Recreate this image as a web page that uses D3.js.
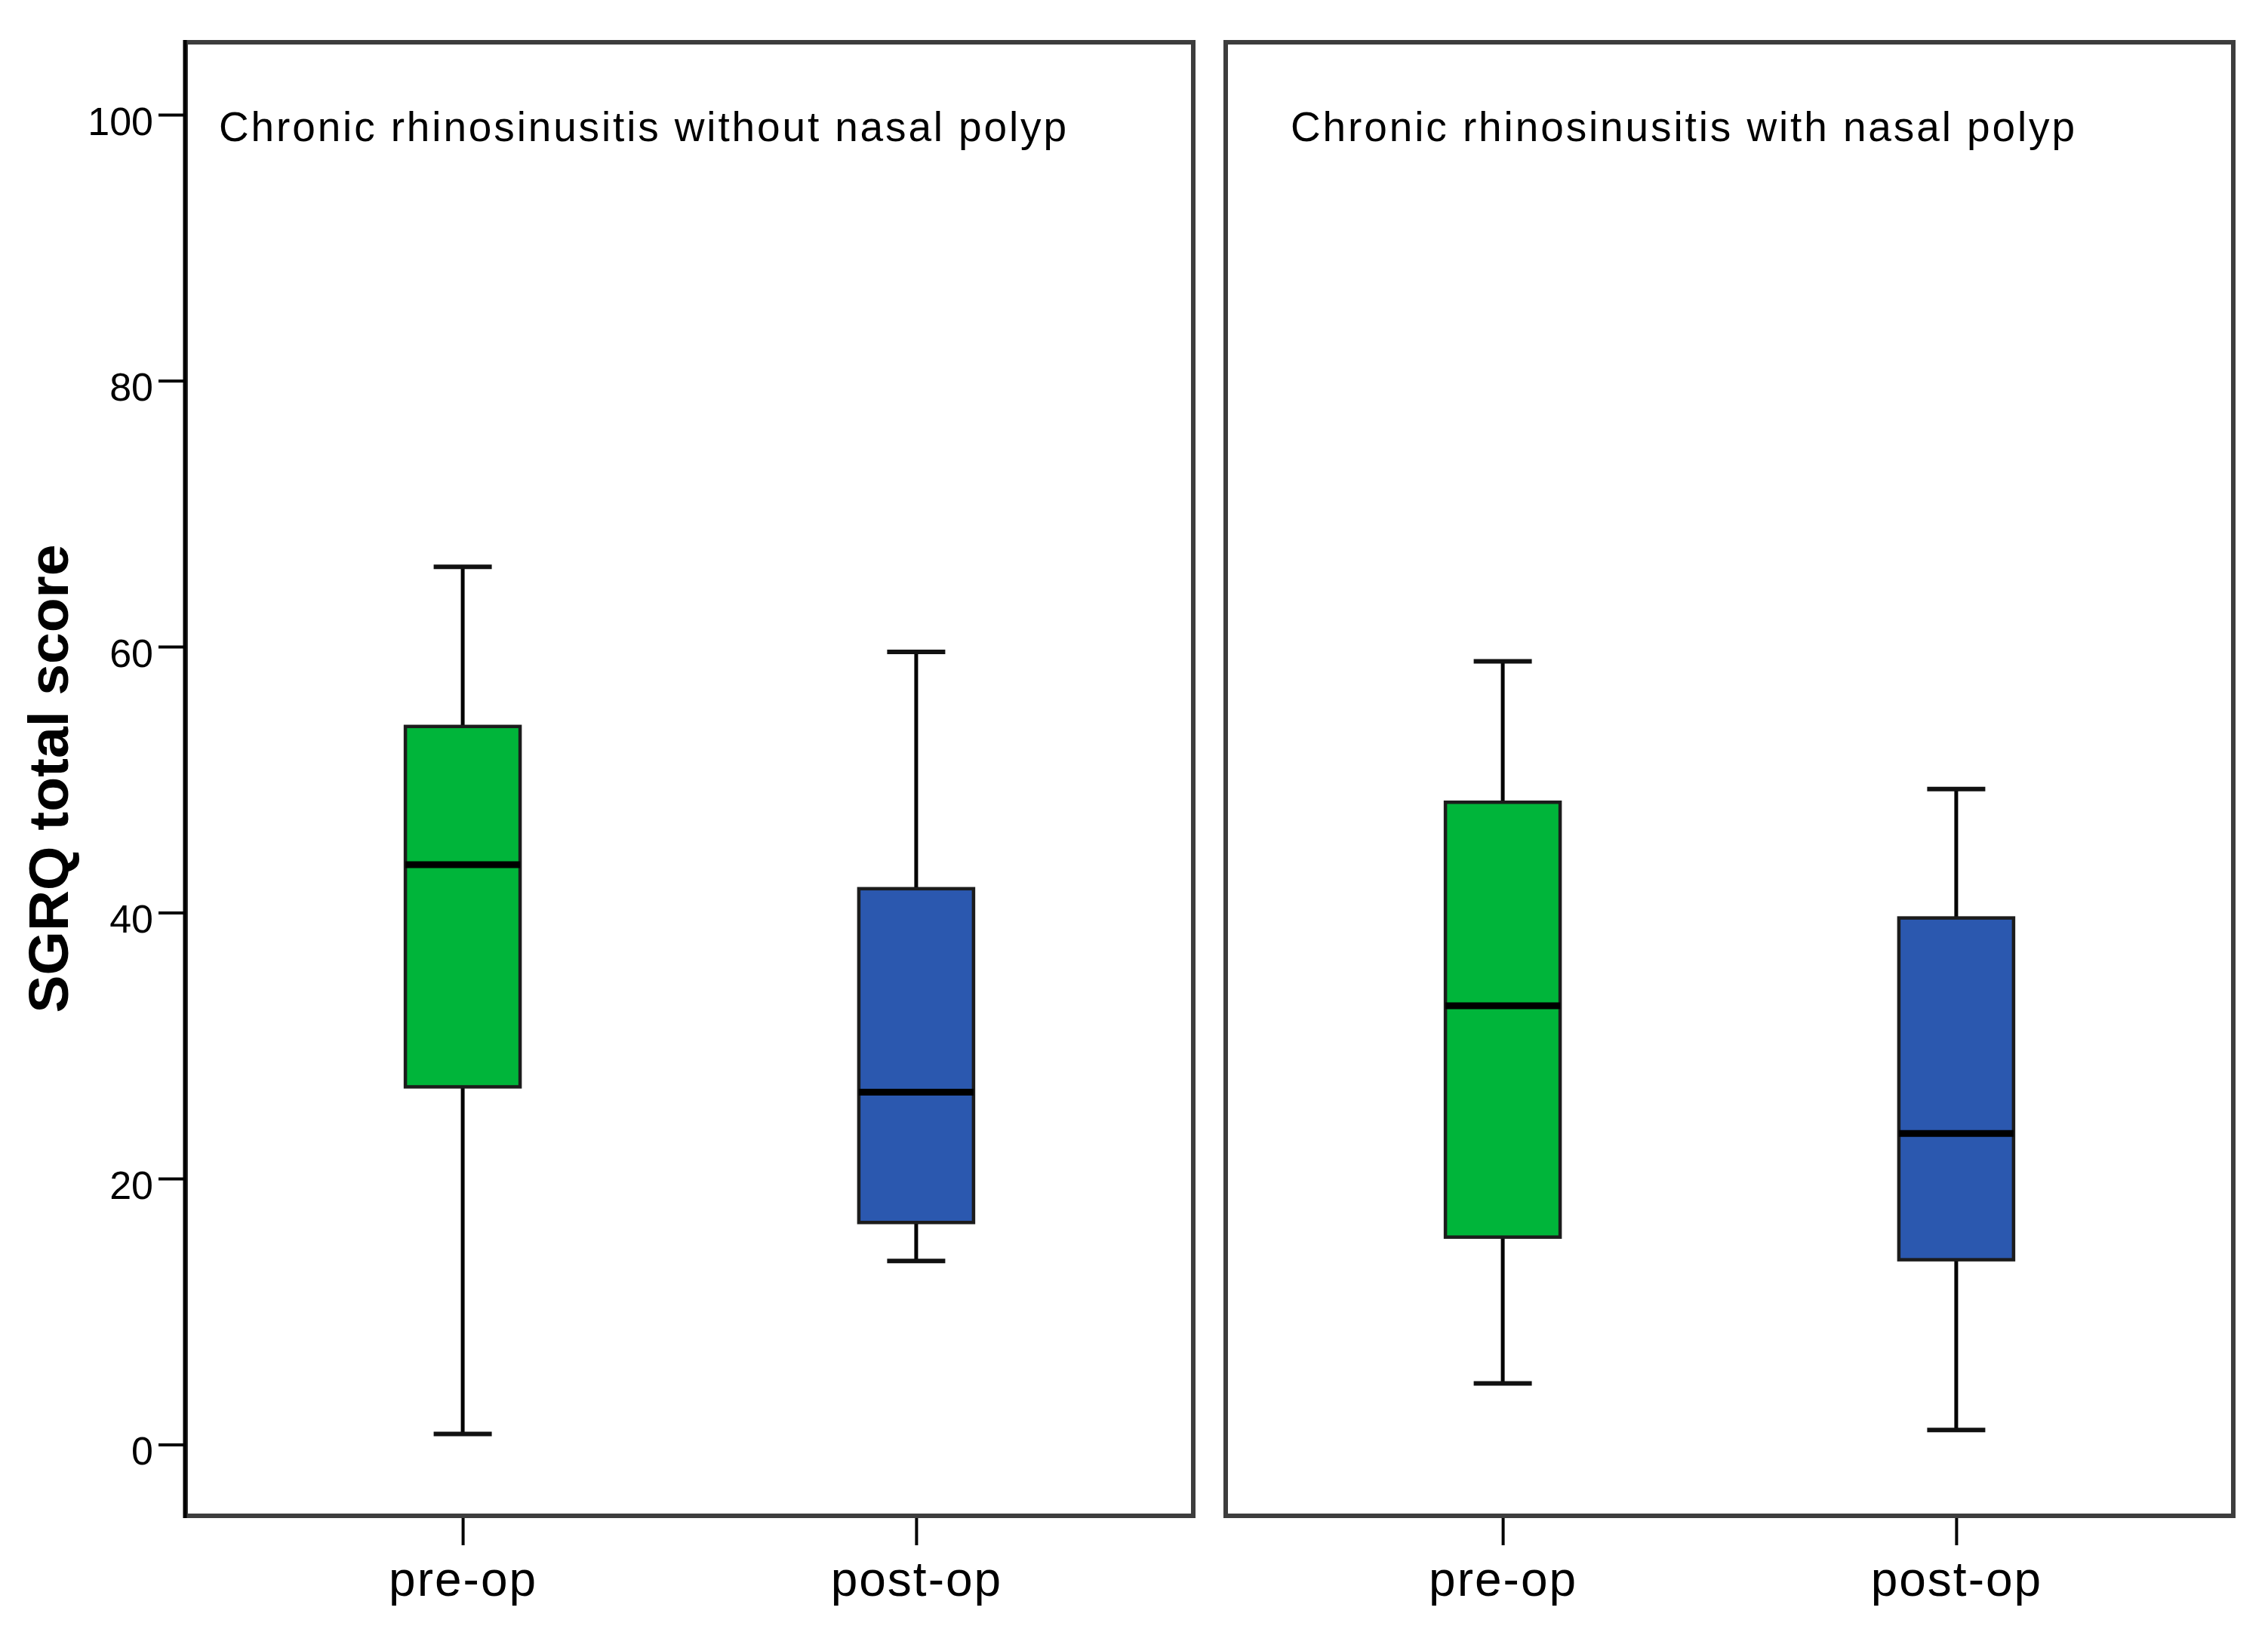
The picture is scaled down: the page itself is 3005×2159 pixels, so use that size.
<!DOCTYPE html>
<html>
<head>
<meta charset="utf-8">
<script src="https://cdn.jsdelivr.net/npm/d3@7"></script>
<style>
  html, body { margin: 0; padding: 0; background: #fff; }
  svg { display: block; }
  .tick text { fill: #000; }
</style>
</head>
<body>
<svg id="chart" width="3005" height="2159"></svg>
<script>
// values
const groups = ['Chronic rhinosinusitis without nasal polyp', 'Chronic rhinosinusitis with nasal polyp'];
const phases = ['pre-op', 'post-op'];
const whiskerLow = [[0.8, 13.8], [4.6, 1.1]];
const q1 = [[26.9, 16.7], [15.6, 13.9]];
const median = [[43.6, 26.5], [33.0, 23.4]];
const q3 = [[54.0, 41.8], [48.3, 39.6]];
const whiskerHigh = [[66.0, 59.6], [58.9, 49.3]];
const yTicks = [0, 20, 40, 60, 80, 100];
const fills = ['#00b53a', '#2b58af'];
const yTitle = 'SGRQ total score';

const svg = d3.select('#chart');
const panelTop = 53, panelBottom = 2012;
const panelX = [243, 1621];
const panelW = 1341;
const boxW = 152, capW = 77;

// y: 0 at 1914.6, 100 at 152
const y = d3.scaleLinear().domain([0, 100]).range([1914.6, 152]);
const x = d3.scalePoint().domain(phases).range([0, panelW]).padding(0.616);

const font = '"Liberation Sans", Arial, sans-serif';

groups.forEach((g, gi) => {
  const p = svg.append('g').attr('transform', `translate(${panelX[gi]},0)`);

  // boxes
  phases.forEach((ph, pi) => {
    const cx = x(ph);
    // whiskers
    p.append('line')
      .attr('x1', cx).attr('x2', cx)
      .attr('y1', y(q3[gi][pi])).attr('y2', y(whiskerHigh[gi][pi]))
      .attr('stroke', '#000').attr('stroke-width', 5);
    p.append('line')
      .attr('x1', cx).attr('x2', cx)
      .attr('y1', y(q1[gi][pi])).attr('y2', y(whiskerLow[gi][pi]))
      .attr('stroke', '#000').attr('stroke-width', 5);
    [whiskerHigh[gi][pi], whiskerLow[gi][pi]].forEach(v => {
      p.append('line')
        .attr('x1', cx - capW / 2).attr('x2', cx + capW / 2)
        .attr('y1', y(v)).attr('y2', y(v))
        .attr('stroke', '#111').attr('stroke-width', 6);
    });
    p.append('rect')
      .attr('x', cx - boxW / 2).attr('width', boxW)
      .attr('y', y(q3[gi][pi])).attr('height', y(q1[gi][pi]) - y(q3[gi][pi]))
      .attr('fill', fills[pi])
      .attr('stroke', '#1c1c1c').attr('stroke-width', 4.5);
    p.append('line')
      .attr('x1', cx - boxW / 2).attr('x2', cx + boxW / 2)
      .attr('y1', y(median[gi][pi])).attr('y2', y(median[gi][pi]))
      .attr('stroke', '#000').attr('stroke-width', 9);
  });

  // frame
  p.append('rect')
    .attr('x', 3).attr('y', panelTop + 3)
    .attr('width', panelW - 6).attr('height', panelBottom - panelTop - 6)
    .attr('fill', 'none')
    .attr('stroke', '#3d3d3d').attr('stroke-width', 6);

  // panel title
  p.append('text')
    .attr('x', panelW / 2 - 62).attr('y', 187)
    .attr('text-anchor', 'middle')
    .attr('font-family', font).attr('font-size', 55)
    .attr('textLength', gi === 0 ? 1123 : 1039)
    .attr('lengthAdjust', 'spacing')
    .text(g);

  // x axis
  const ax = p.append('g')
    .attr('transform', `translate(0,${panelBottom})`)
    .call(d3.axisBottom(x).tickSize(36).tickPadding(22));
  ax.select('.domain').remove();
  ax.selectAll('line').attr('stroke', '#000').attr('stroke-width', 4);
  ax.selectAll('text')
    .attr('font-family', font).attr('font-size', 64)
    .attr('letter-spacing', 2);
  ax.attr('font-family', null).attr('font-size', null);

  if (gi === 0) {
    const ay = p.append('g')
      .call(d3.axisLeft(y).tickValues(yTicks).tickSize(33).tickPadding(7));
    ay.select('.domain').remove();
    ay.selectAll('line').attr('stroke', '#000').attr('stroke-width', 4);
    ay.selectAll('text')
      .attr('font-family', font).attr('font-size', 52)
      .attr('dy', '0.5em');
    ay.attr('font-family', null).attr('font-size', null);
    // axis line
    p.append('line')
      .attr('x1', 2).attr('x2', 2).attr('y1', panelTop).attr('y2', panelBottom)
      .attr('stroke', '#000').attr('stroke-width', 5);
  }
});

// y title
svg.append('text')
  .attr('transform', 'translate(90,1032) rotate(-90)')
  .attr('text-anchor', 'middle')
  .attr('font-family', font).attr('font-weight', 'bold').attr('font-size', 75)
  .text(yTitle);
</script>
</body>
</html>
